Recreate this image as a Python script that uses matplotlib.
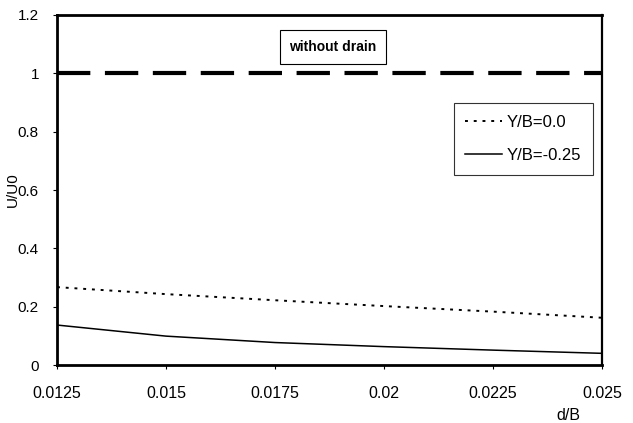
import matplotlib.pyplot as plt

plt.rcParams['font.family'] = ['Liberation Sans', 'DejaVu Sans']

# Data.
d_over_b = [0.0125, 0.015, 0.0175, 0.02, 0.0225, 0.025]
u_y00 = [0.267, 0.243, 0.222, 0.202, 0.183, 0.162]
u_y025 = [0.137, 0.099, 0.077, 0.063, 0.051, 0.040]
u_no_drain = [1.0, 1.0, 1.0, 1.0, 1.0, 1.0]
x_ticks = [0.0125, 0.015, 0.0175, 0.02, 0.0225, 0.025]
x_labels = ['0.0125', '0.015', '0.0175', '0.02', '0.0225', '0.025']
y_ticks = [0, 0.2, 0.4, 0.6, 0.8, 1.0, 1.2]
y_labels = ['0', '0.2', '0.4', '0.6', '0.8', '1', '1.2']

fig = plt.figure(figsize=(6.33, 4.23), dpi=100)
ax = fig.add_axes([57 / 633, 1 - 365 / 423, 545 / 633, 350 / 423])

ax.plot(d_over_b, u_no_drain, color='black', lw=3, linestyle=(0, (8, 3.5)))
ax.plot(d_over_b, u_y00, color='black', lw=1.4, linestyle=(0, (1.5, 3)), label='Y/B=0.0')
ax.plot(d_over_b, u_y025, color='black', lw=1.1, label='Y/B=-0.25')

ax.set_xlim(0.0125, 0.025)
ax.set_ylim(0, 1.2)
ax.set_xticks(x_ticks)
ax.set_xticklabels(x_labels)
ax.set_yticks(y_ticks)
ax.set_yticklabels(y_labels)
ax.tick_params(length=3, width=0.8, direction='out')
ax.tick_params(axis='x', labelsize=11.5, pad=12)
ax.tick_params(axis='y', labelsize=11, pad=10)

for side in ['left', 'bottom', 'top']:
    ax.spines[side].set_linewidth(2)
ax.spines['right'].set_linewidth(1.6)

ax.set_ylabel('U/U0', fontsize=11)
ax.yaxis.set_label_coords(-0.068, 0.5)
ax.text(0.96, -0.143, 'd/B', transform=ax.transAxes, fontsize=11.5, ha='right', va='center')

ax.text(0.01883, 1.09, 'without drain', fontsize=10, fontweight='bold', ha='center', va='center',
        bbox=dict(boxstyle='square,pad=0.7', fc='white', ec='black', lw=0.8))

leg = ax.legend(loc='upper right', bbox_to_anchor=(0.9835, 0.749), fontsize=12, frameon=True,
                fancybox=False, edgecolor='black', handlelength=2.2, handletextpad=0.3,
                borderpad=0.7, labelspacing=1.1, borderaxespad=0)
leg.get_frame().set_linewidth(0.8)

fig.savefig('out.png', dpi=100)
